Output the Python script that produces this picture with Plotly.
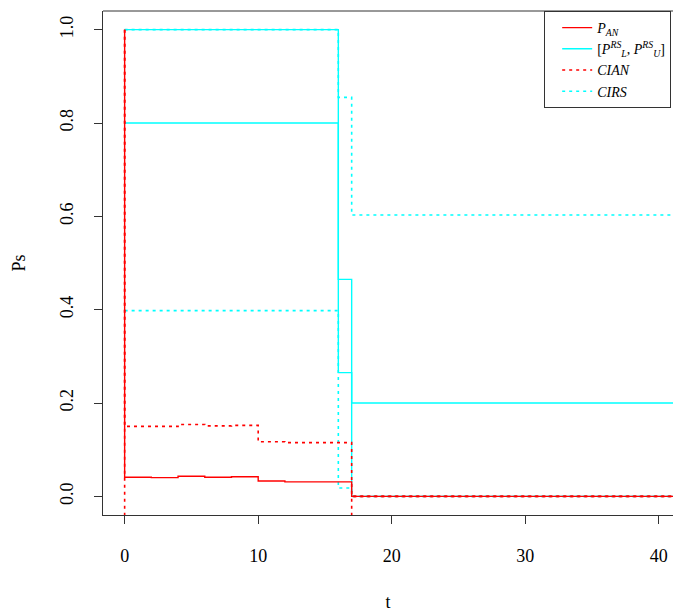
import plotly.graph_objects as go

# ---- data ----
T_END = 45
t_an = [0, 0, 2, 4, 6, 8, 10, 12, 17, T_END]
p_an = [1.0, 0.041, 0.040, 0.043, 0.041, 0.042, 0.033, 0.031, 0.0, 0.0]
cian_upper = [1.0, 0.150, 0.150, 0.154, 0.151, 0.152, 0.117, 0.115, 0.0, 0.0]
cian_lower = [1.0, -0.08, -0.08, -0.08, -0.08, -0.08, -0.08, -0.08, 0.0, 0.0]

t_rs = [0, 16, 17, T_END]
rs_lower = [0.8, 0.265, 0.0, 0.0]
rs_upper = [1.0, 0.465, 0.2, 0.2]
cirs_lower = [0.398, 0.018, 0.0, 0.0]
cirs_upper = [1.0, 0.855, 0.603, 0.603]

x_ticks = [0, 10, 20, 30, 40]
y_ticks = [0.0, 0.2, 0.4, 0.6, 0.8, 1.0]
y_ticklabels = ["0.0", "0.2", "0.4", "0.6", "0.8", "1.0"]

FONT = "Liberation Serif"
RED = "#FF0000"
CYAN = "#00FFFF"
AX = "#333333"


def pair(t, lo, hi):
    return t + [None] + t, lo + [None] + hi


fig = go.Figure()

x, y = pair(t_rs, rs_lower, rs_upper)
fig.add_trace(go.Scatter(x=x, y=y, mode="lines", line=dict(color=CYAN, width=1.4, shape="hv"),
                         name="[<i>P</i><sup><i>RS</i></sup><sub><i>L</i></sub>, <i>P</i><sup><i>RS</i></sup><sub><i>U</i></sub>]",
                         legendrank=2))
x, y = pair(t_rs, cirs_lower, cirs_upper)
fig.add_trace(go.Scatter(x=x, y=y, mode="lines", line=dict(color=CYAN, width=1.6, shape="hv", dash="3px,4px"),
                         name="<i>CIRS</i>", legendrank=4))
fig.add_trace(go.Scatter(x=t_an, y=p_an, mode="lines", line=dict(color=RED, width=1.4, shape="hv"),
                         name="<i>P</i><sub><i>AN</i></sub>", legendrank=1))
x, y = pair(t_an, cian_lower, cian_upper)
fig.add_trace(go.Scatter(x=x, y=y, mode="lines", line=dict(color=RED, width=1.6, shape="hv", dash="3px,4px"),
                         name="<i>CIAN</i>", legendrank=3))

fig.update_layout(
    width=673, height=612,
    margin=dict(l=103, r=0, t=11, b=97, autoexpand=False),
    paper_bgcolor="white", plot_bgcolor="white",
    font=dict(family=FONT, color="black", size=18),
    showlegend=True,
    legend=dict(x=0.774, y=1, xanchor="left", yanchor="top",
                bordercolor=AX, borderwidth=1, bgcolor="white", indentation=12,
                font=dict(family=FONT, size=14), tracegroupgap=0),
    xaxis=dict(range=[-1.62, 41.06], tickvals=x_ticks, ticks="outside", ticklen=8,
               tickcolor=AX, showline=True, linecolor=AX, linewidth=1,
               showgrid=False, zeroline=False, tickfont=dict(size=18),
               ticklabelstandoff=16,
               title=dict(text="t", font=dict(size=18), standoff=36)),
    yaxis=dict(range=[-0.04, 1.04], tickvals=y_ticks, ticktext=y_ticklabels,
               tickangle=-90, ticks="outside", ticklen=8, tickcolor=AX,
               showline=True, linecolor=AX, linewidth=1,
               showgrid=False, zeroline=False, tickfont=dict(size=18),
               ticklabelstandoff=14,
               title=dict(text="Ps", font=dict(size=18), standoff=26)),
    shapes=[dict(type="line", xref="paper", yref="paper", x0=0, x1=1, y0=1, y1=1,
                 line=dict(color=AX, width=1))],
)

# remove the browser's default page margin so the figure fills the window exactly
fig.write_html("out.html", config={"displayModeBar": False},
               post_script="document.body.style.margin='0';document.body.style.overflow='hidden';")
